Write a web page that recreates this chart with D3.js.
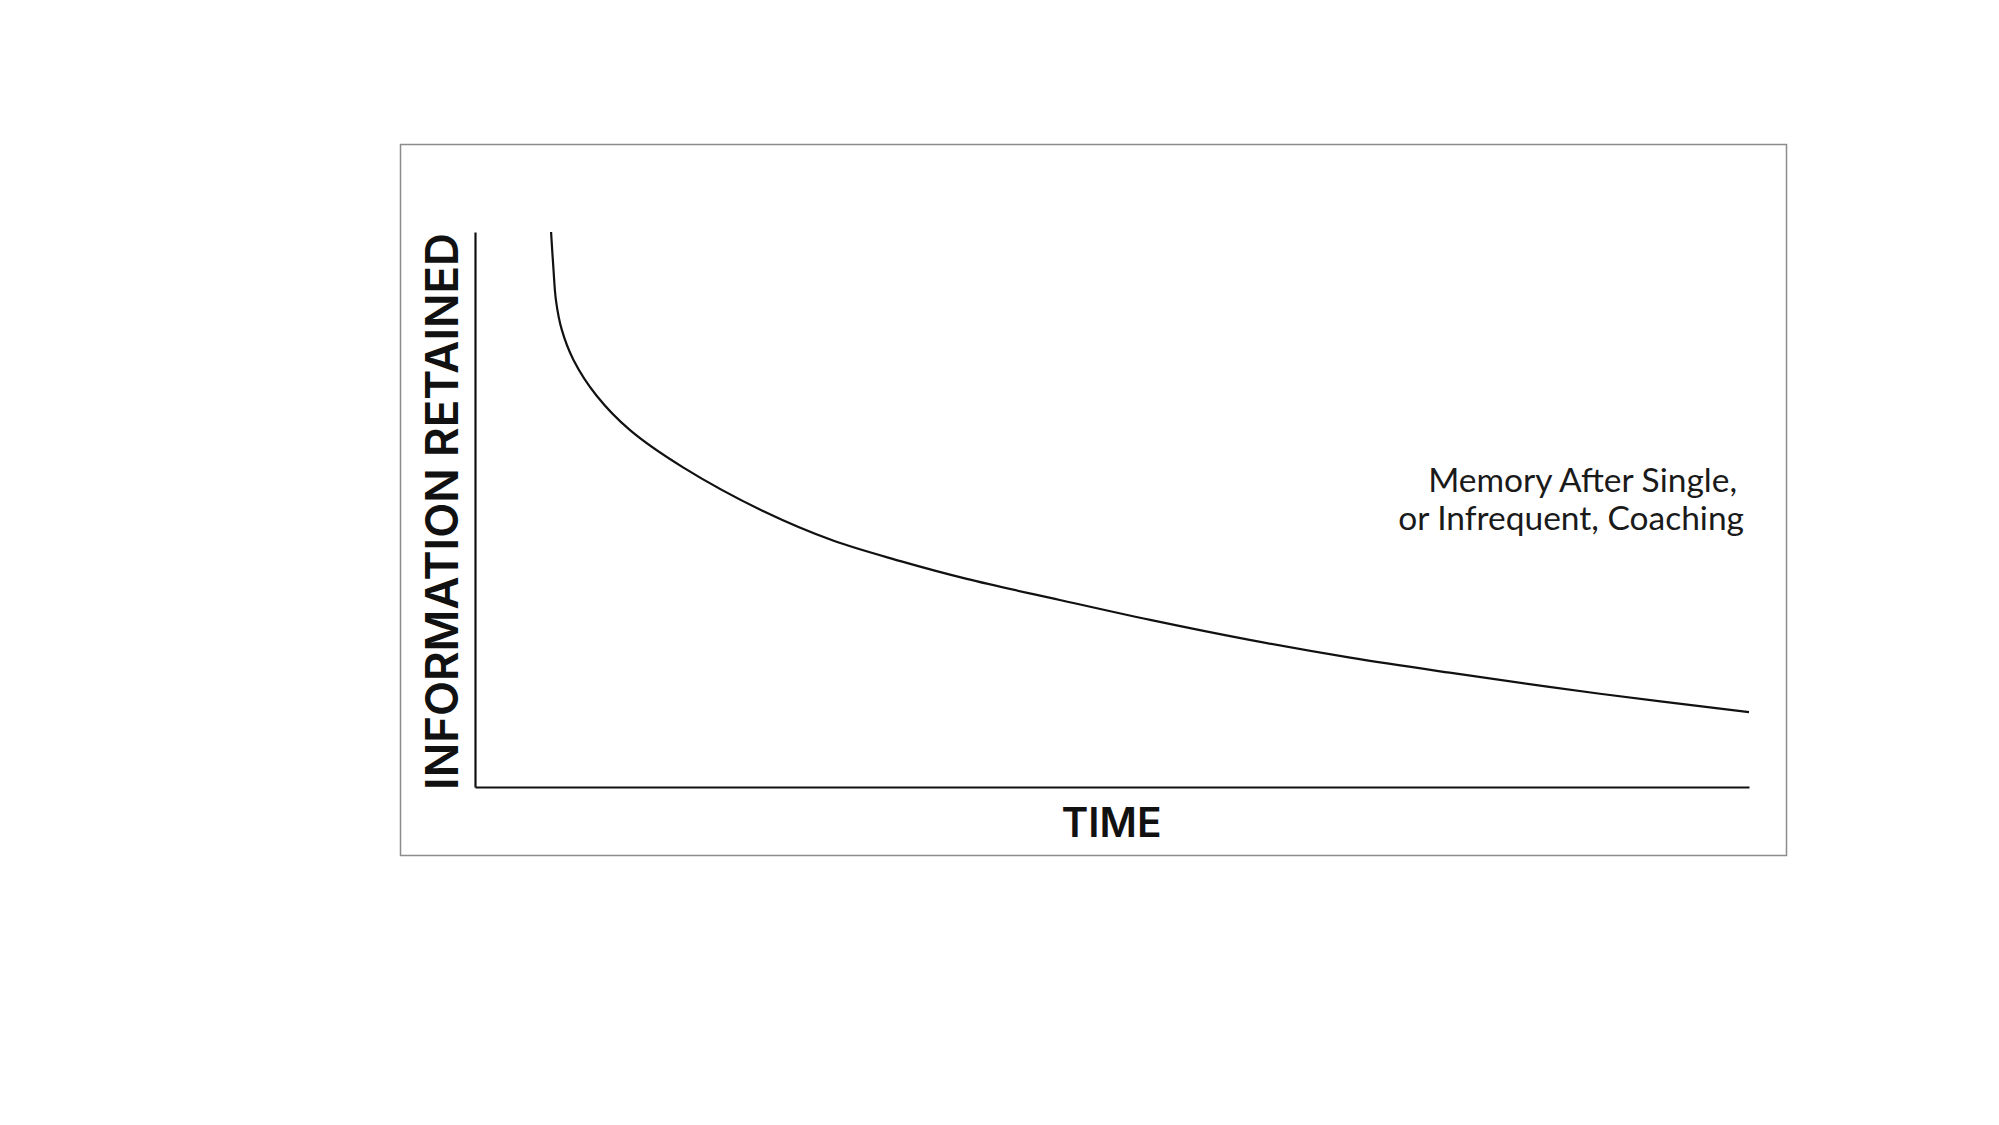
<!DOCTYPE html>
<html><head><meta charset="utf-8">
<script src="https://cdn.jsdelivr.net/npm/d3@7"></script>
<style>html,body{margin:0;padding:0;background:#fff;}</style>
</head><body>
<svg id="chart" width="1999" height="1125"></svg>
<script>
// Data (time units 0-100, retention 0-100)
const timeValues = [5.97, 6.15, 6.36, 6.81, 7.72, 9.55, 12.17, 16.33, 22.9, 28.1, 33.4, 38.6, 45.9, 53.0, 60.8, 68.7, 76.5, 88.3, 100];
const retainedValues = [100, 93.6, 87.6, 82.4, 77.0, 70.5, 64.3, 57.6, 49.4, 44.4, 40.7, 37.5, 33.7, 30.1, 26.5, 23.3, 20.6, 16.8, 13.5];
const xLabel = "TIME";
const yLabel = "INFORMATION RETAINED";
const annotationLines = ["Memory After Single,", "or Infrequent, Coaching"];

const svg = d3.select("#chart");
const mLeft = 475, mRight = 1749, mTop = 232, mBottom = 787;
const x = d3.scaleLinear().domain([0, 100]).range([mLeft, mRight]);
const y = d3.scaleLinear().domain([0, 100]).range([mBottom, mTop]);

// Frame
svg.append("rect").attr("x", 400.5).attr("y", 144.5).attr("width", 1386).attr("height", 711)
  .attr("fill", "none").attr("stroke", "#8c8c8c").attr("stroke-width", 1.5);

// Axes (plain lines, no ticks)
const xAxis = d3.axisBottom(x).tickValues([]).tickSizeOuter(0);
const yAxis = d3.axisLeft(y).tickValues([]).tickSizeOuter(0);
svg.append("g").attr("transform", `translate(0,${mBottom})`).call(xAxis)
  .select(".domain").attr("stroke", "#111").attr("stroke-width", 2.2);
svg.append("g").attr("transform", `translate(${mLeft},0)`).call(yAxis)
  .select(".domain").attr("stroke", "#111").attr("stroke-width", 2.2);

// Curve
const data = timeValues.map((t, i) => ({t, r: retainedValues[i]}));
const line = d3.line().x(d => x(d.t)).y(d => y(d.r)).curve(d3.curveCatmullRom.alpha(0.5));
svg.append("path").datum(data).attr("d", line)
  .attr("fill", "none").attr("stroke", "#111").attr("stroke-width", 2.2);

// Fit text width helper
function fit(sel, target) {
  const w = sel.node().getComputedTextLength();
  const fs = parseFloat(sel.attr("font-size"));
  sel.attr("font-size", fs * target / w);
}

// X label
const tx = svg.append("text").attr("x", 1111.5).attr("y", 837).attr("text-anchor", "middle")
  .attr("font-family", "Inter, 'Open Sans', sans-serif").attr("font-weight", 600)
  .attr("font-size", 42).attr("fill", "#111").text(xLabel);
fit(tx, 100);

// Y label
const ty = svg.append("text").attr("transform", "translate(458,511.5) rotate(-90)")
  .attr("text-anchor", "middle")
  .attr("font-family", "Inter, 'Open Sans', sans-serif").attr("font-weight", 600)
  .attr("font-size", 44).attr("fill", "#111").text(yLabel);
fit(ty, 557);

// Annotation
const ann = svg.append("text").attr("font-family", "Lato, sans-serif").attr("font-size", 33.5)
  .attr("fill", "#1a1a1a").attr("text-anchor", "end");
ann.append("tspan").attr("x", 1737).attr("y", 492).text(annotationLines[0]);
ann.append("tspan").attr("x", 1744).attr("y", 530).text(annotationLines[1]);
</script>
</body></html>
